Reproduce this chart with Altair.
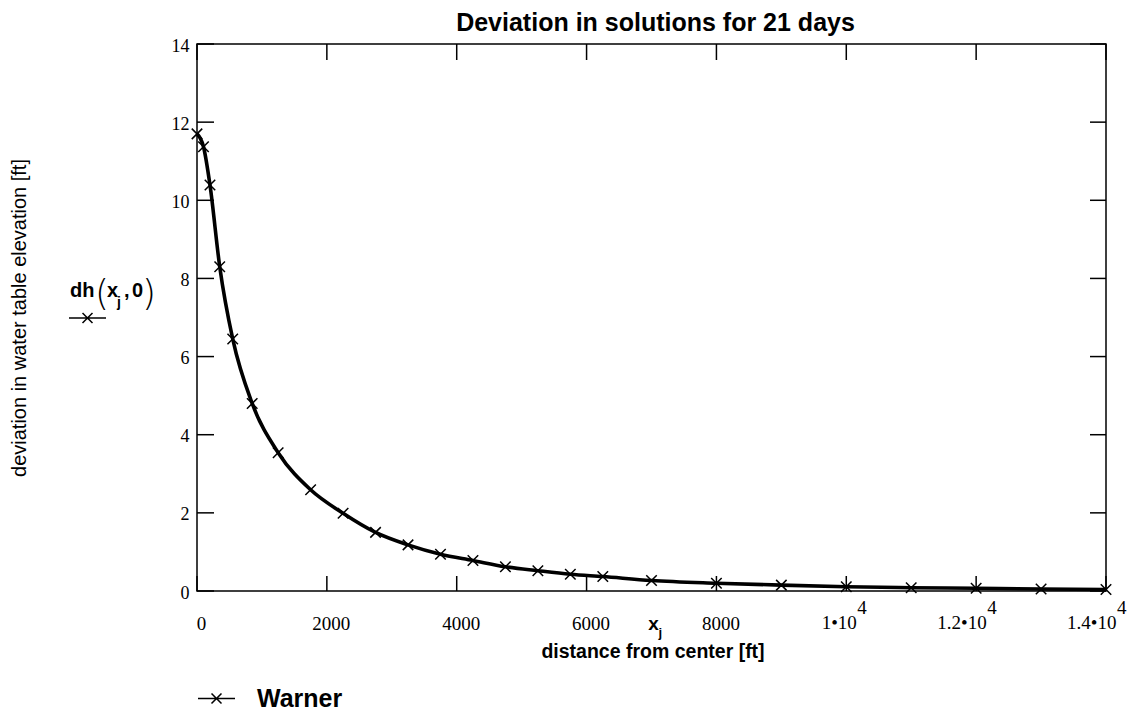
import altair as alt
import pandas as pd

# ---------------- data ----------------
x_ft = [0, 100, 200, 350, 550, 850, 1250, 1750, 2250, 2750, 3250, 3750, 4250,
        4750, 5250, 5750, 6250, 7000, 8000, 9000, 10000, 11000, 12000, 13000, 14000]
dh_ft = [11.70, 11.37, 10.39, 8.30, 6.45, 4.80, 3.54, 2.59, 1.99, 1.50, 1.18, 0.94, 0.78,
         0.62, 0.52, 0.43, 0.37, 0.27, 0.20, 0.15, 0.11, 0.085, 0.07, 0.05, 0.04]
series_name = "Warner"

x_tick_values = [0, 2000, 4000, 6000, 8000, 10000, 12000, 14000]
x_tick_base = ["0", "2000", "4000", "6000", "8000", "1•10", "1.2•10", "1.4•10"]
x_tick_sup = ["", "", "", "", "", "4", "4", "4"]
y_tick_values = [0, 2, 4, 6, 8, 10, 12, 14]

title_text = "Deviation in solutions for 21 days"

# ---------------- layout ----------------
W, H = 909, 547
XMARK = "M-1,-1L1,1M-1,1L1,-1"
LEGSYM = "M-1,0L1,0M-0.27,-0.27L0.27,0.27M-0.27,0.27L0.27,-0.27"
SANS = "Liberation Sans"
SERIF = "Liberation Serif"

df = pd.DataFrame({"x": x_ft, "dh": dh_ft, "series": [series_name] * len(x_ft)})
xt = pd.DataFrame({"v": x_tick_values, "base": x_tick_base, "sup": x_tick_sup})
yt = pd.DataFrame({"v": y_tick_values})
one = pd.DataFrame({"k": [0]})

xscale = alt.Scale(domain=[0, 14000], nice=False, zero=False)
yscale = alt.Scale(domain=[0, 14], nice=False)

x_axis = alt.Axis(values=x_tick_values, format="d",
                  labelExpr="datum.value >= 10000 ? '' : datum.label",
                  ticks=False, domain=False, grid=False, labelFlush=False, labelOverlap=False,
                  labelFont=SERIF, labelFontSize=19, labelColor="black",
                  labelBaseline="alphabetic", labelPadding=38, labelOffset=4,
                  title="distance from center [ft]", titleFont=SANS, titleFontSize=19.5,
                  titleFontWeight="bold", titleColor="black", titleX=W / 2 + 1, titleY=66,
                  titleBaseline="alphabetic", titleAlign="center")
y_axis = alt.Axis(values=y_tick_values, ticks=False, domain=False, grid=False,
                  labelFlush=False, labelOverlap=False,
                  labelFont=SERIF, labelFontSize=18, labelColor="black", labelPadding=8,
                  labelOffset=2,
                  title="deviation in water table elevation [ft]", titleFont=SANS,
                  titleFontSize=20, titleFontWeight="normal", titleColor="black",
                  titleAngle=270, titleX=-172, titleY=H / 2, titleAlign="center",
                  titleBaseline="alphabetic")

line = alt.Chart(df).mark_line(interpolate="monotone", strokeWidth=3.6).encode(
    x=alt.X("x:Q", scale=xscale, axis=x_axis),
    y=alt.Y("dh:Q", scale=yscale, axis=y_axis),
    color=alt.Color("series:N", scale=alt.Scale(range=["black"]),
                    legend=alt.Legend(orient="none", legendX=0, legendY=635, title=None,
                                      symbolType=LEGSYM, symbolSize=1369,
                                      symbolStrokeWidth=1.5, symbolStrokeColor="black",
                                      labelFont=SANS, labelFontSize=25, labelFontWeight="bold",
                                      labelColor="black", labelOffset=21, padding=0,
                                      labelLimit=0)),
)

points = alt.Chart(df).mark_point(shape=XMARK, size=110, strokeWidth=1.5, filled=False,
                                  color="black", opacity=1).encode(
    x=alt.X("x:Q", scale=xscale),
    y=alt.Y("dh:Q", scale=yscale),
)

# inner ticks on all four sides of the box
xticks_b = alt.Chart(xt).mark_rule(color="black", strokeWidth=1.5).encode(
    x=alt.X("v:Q", scale=xscale), y=alt.value(H), y2=alt.value(H - 15))
xticks_t = alt.Chart(xt).mark_rule(color="black", strokeWidth=1.5).encode(
    x=alt.X("v:Q", scale=xscale), y=alt.value(0), y2=alt.value(16))
yticks_l = alt.Chart(yt).mark_rule(color="black", strokeWidth=1.5).encode(
    y=alt.Y("v:Q", scale=yscale), x=alt.value(0), x2=alt.value(17))
yticks_r = alt.Chart(yt).mark_rule(color="black", strokeWidth=1.5).encode(
    y=alt.Y("v:Q", scale=yscale), x=alt.value(W), x2=alt.value(W - 16))

sup_base = alt.Chart(xt).transform_filter("datum.sup != ''").mark_text(
    align="right", baseline="alphabetic", dx=10.5, font=SERIF, fontSize=19, color="black"
).encode(x=alt.X("v:Q", scale=xscale), y=alt.value(H + 38), text="base:N")
sup_exp = alt.Chart(xt).transform_filter("datum.sup != ''").mark_text(
    align="left", baseline="alphabetic", dx=11, dy=-15, font=SERIF, fontSize=19, color="black"
).encode(x=alt.X("v:Q", scale=xscale), y=alt.value(H + 38), text="sup:N")


def txt(s, x, y, size, weight="bold", align="left", font=SANS):
    return alt.Chart(one).mark_text(align=align, baseline="alphabetic", font=font,
                                    fontSize=size, fontWeight=weight, color="black").encode(
        x=alt.value(x), y=alt.value(y), text=alt.value(s))


title_mark = txt(title_text, W / 2 + 4, -13, 25, align="center")

# x_j above the x axis title
xj_parts = [
    txt("x", W / 2 + 2, H + 39, 19, align="center"),
    txt("j", W / 2 + 7, H + 46, 13),
]

# dh(x_j, 0) label left of the axis
dh_parts = [
    txt("dh", -127, 253, 20),
    txt("(", -102, 261, 36, 200, font="DejaVu Sans"),
    txt("x", -90, 253, 20),
    txt("j", -80, 263, 14),
    txt(",", -73, 253, 20),
    txt("0", -65, 253, 20),
    txt(")", -55, 261, 36, 200, font="DejaVu Sans"),
]
dh_sym = alt.Chart(one).mark_point(shape=LEGSYM, size=1369, strokeWidth=1.5, filled=False,
                                   color="black", opacity=1).encode(
    x=alt.value(-109.5), y=alt.value(274))

chart = alt.layer(line, points, xticks_b, xticks_t, yticks_l, yticks_r, sup_base, sup_exp,
                  title_mark, *xj_parts, *dh_parts, dh_sym).properties(
    width=W, height=H,
    autosize=alt.AutoSizeParams(type="none"),
    padding={"left": 189, "top": 36, "right": 25, "bottom": 120},
    background="white",
).configure_view(stroke="black", strokeWidth=1.5)

chart.save("out.html", embed_options={"renderer": "svg", "actions": False})
